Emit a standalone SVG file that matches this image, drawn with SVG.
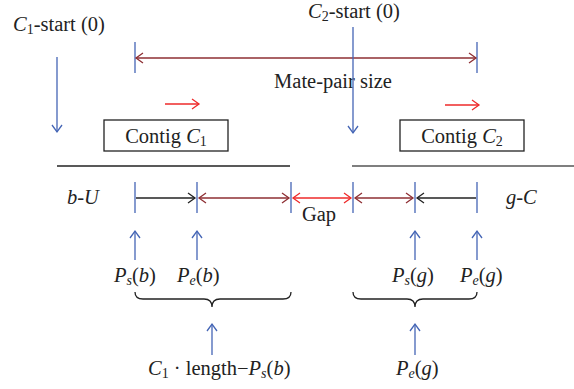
<svg xmlns="http://www.w3.org/2000/svg" width="574" height="389" viewBox="0 0 574 389">
<style>
text{font-family:"Liberation Serif","Times New Roman",serif;font-size:20.5px;fill:#222}
.i{font-style:italic}
.sub{font-size:14px}
.ln{fill:none;stroke-width:1.3}
.blue{stroke:#4465B5}
.dred{stroke:#8E2F33}
.red{stroke:#EE2A2A}
.blk{stroke:#222}
.box{fill:#fff;stroke:#222;stroke-width:1.3}
</style>
<defs>
<marker id="mb" viewBox="-8 -6 10 12" refX="0" refY="0" markerWidth="10" markerHeight="12" markerUnits="userSpaceOnUse" orient="auto-start-reverse"><path d="M-7,-5 L0,0 L-7,5" fill="none" stroke="#4465B5" stroke-width="1.3"/></marker>
<marker id="md" viewBox="-8 -6 10 12" refX="0" refY="0" markerWidth="10" markerHeight="12" markerUnits="userSpaceOnUse" orient="auto-start-reverse"><path d="M-7,-5 L0,0 L-7,5" fill="none" stroke="#8E2F33" stroke-width="1.3"/></marker>
<marker id="mr" viewBox="-8 -6 10 12" refX="0" refY="0" markerWidth="10" markerHeight="12" markerUnits="userSpaceOnUse" orient="auto-start-reverse"><path d="M-7,-5 L0,0 L-7,5" fill="none" stroke="#EE2A2A" stroke-width="1.3"/></marker>
<marker id="mk" viewBox="-8 -6 10 12" refX="0" refY="0" markerWidth="10" markerHeight="12" markerUnits="userSpaceOnUse" orient="auto-start-reverse"><path d="M-7,-5 L0,0 L-7,5" fill="none" stroke="#222" stroke-width="1.3"/></marker>
</defs>

<g id="contig1">
<rect class="box" x="104" y="120" width="124" height="31"/>
<text x="166" y="143" text-anchor="middle">Contig <tspan class="i">C</tspan><tspan class="sub" dy="3">1</tspan></text>
</g>
<g id="contig2">
<rect class="box" x="400" y="120" width="124" height="31"/>
<text x="462" y="143" text-anchor="middle">Contig <tspan class="i">C</tspan><tspan class="sub" dy="3">2</tspan></text>
</g>

<g id="labels">
<text x="13" y="31"><tspan class="i">C</tspan><tspan class="sub" dy="3">1</tspan><tspan dy="-3">-start (0)</tspan></text>
<text x="308" y="18"><tspan class="i">C</tspan><tspan class="sub" dy="3">2</tspan><tspan dy="-3">-start (0)</tspan></text>
<text x="333" y="88" text-anchor="middle">Mate-pair size</text>
<text x="67" y="204" class="i">b-U</text>
<text x="506" y="204" class="i">g-C</text>
<text x="319" y="221" text-anchor="middle">Gap</text>
<text x="114" y="282"><tspan class="i">P</tspan><tspan class="i sub" dy="3">s</tspan><tspan dy="-3">(</tspan><tspan class="i">b</tspan>)</text>
<text x="177" y="282"><tspan class="i">P</tspan><tspan class="i sub" dy="3">e</tspan><tspan dy="-3">(</tspan><tspan class="i">b</tspan>)</text>
<text x="392" y="282"><tspan class="i">P</tspan><tspan class="i sub" dy="3">s</tspan><tspan dy="-3">(</tspan><tspan class="i">g</tspan>)</text>
<text x="460" y="282"><tspan class="i">P</tspan><tspan class="i sub" dy="3">e</tspan><tspan dy="-3">(</tspan><tspan class="i">g</tspan>)</text>
<text x="148" y="375"><tspan class="i">C</tspan><tspan class="sub" dy="3">1</tspan><tspan dy="-3"> · length−</tspan><tspan class="i">P</tspan><tspan class="i sub" dy="3">s</tspan><tspan dy="-3">(</tspan><tspan class="i">b</tspan>)</text>
<text x="396" y="375"><tspan class="i">P</tspan><tspan class="i sub" dy="3">e</tspan><tspan dy="-3">(</tspan><tspan class="i">g</tspan>)</text>
</g>

<g id="connectors">
<line class="ln blue" x1="135" y1="42" x2="135" y2="73"/>
<line class="ln blue" x1="477" y1="42" x2="477" y2="73"/>
<line class="ln dred" x1="136" y1="58" x2="476" y2="58" marker-start="url(#md)" marker-end="url(#md)"/>
<line class="ln blue" x1="57" y1="57" x2="57" y2="132" marker-end="url(#mb)"/>
<line class="ln blue" x1="353" y1="27" x2="353" y2="133" marker-end="url(#mb)"/>
<line class="ln red" x1="165" y1="104" x2="199" y2="104" marker-end="url(#mr)"/>
<line class="ln red" x1="445" y1="105" x2="479" y2="105" marker-end="url(#mr)"/>
<line class="ln blk" x1="57" y1="166" x2="290" y2="166"/>
<line class="ln" stroke="#555" x1="352" y1="166" x2="574" y2="166"/>
<line class="ln blue" x1="135" y1="182" x2="135" y2="213"/>
<line class="ln blue" x1="197" y1="182" x2="197" y2="213"/>
<line class="ln blue" x1="291" y1="182" x2="291" y2="213"/>
<line class="ln blue" x1="353" y1="182" x2="353" y2="213"/>
<line class="ln blue" x1="415" y1="182" x2="415" y2="213"/>
<line class="ln blue" x1="477" y1="182" x2="477" y2="213"/>
<line class="ln blk" x1="136" y1="198" x2="195" y2="198" marker-end="url(#mk)"/>
<line class="ln dred" x1="199" y1="198" x2="289" y2="198" marker-start="url(#md)" marker-end="url(#md)"/>
<line class="ln red" x1="293" y1="198" x2="351" y2="198" marker-start="url(#mr)" marker-end="url(#mr)"/>
<line class="ln dred" x1="355" y1="198" x2="413" y2="198" marker-start="url(#md)" marker-end="url(#md)"/>
<line class="ln blk" x1="476" y1="198" x2="417" y2="198" marker-end="url(#mk)"/>
<line class="ln blue" x1="135" y1="260" x2="135" y2="231" marker-end="url(#mb)"/>
<line class="ln blue" x1="197" y1="260" x2="197" y2="231" marker-end="url(#mb)"/>
<line class="ln blue" x1="415" y1="260" x2="415" y2="231" marker-end="url(#mb)"/>
<line class="ln blue" x1="477" y1="260" x2="477" y2="231" marker-end="url(#mb)"/>
<path class="ln blk" d="M135,292 Q135,299 143,299 L204,299 Q212,299 212,307 Q212,299 220,299 L283,299 Q291,299 291,292"/>
<path class="ln blk" d="M353,292 Q353,299 361,299 L407,299 Q415,299 415,307 Q415,299 423,299 L469,299 Q477,299 477,292"/>
<line class="ln blue" x1="212" y1="355" x2="212" y2="324" marker-end="url(#mb)"/>
<line class="ln blue" x1="415" y1="355" x2="415" y2="324" marker-end="url(#mb)"/>
</g>
</svg>
